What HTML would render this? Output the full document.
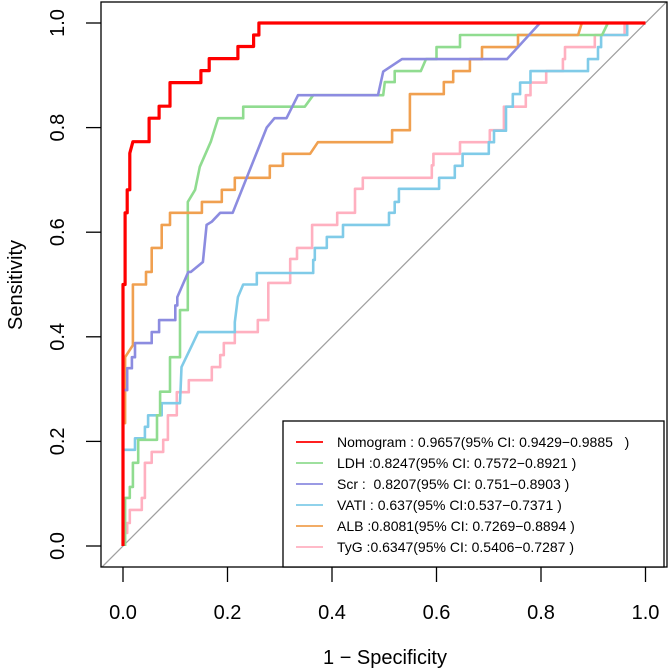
<!DOCTYPE html>
<html><head><meta charset="utf-8"><style>
html,body{margin:0;padding:0;background:#fff;}
svg{display:block;font-family:"Liberation Sans",Arial,sans-serif;}
</style></head><body>
<svg id="chart" width="669" height="672" viewBox="0 0 669 672" xmlns="http://www.w3.org/2000/svg">
<g id="marks"></g>
</svg>
<script>
const xTicks = [0, 0.2, 0.4, 0.6, 0.8, 1.0];
const yTicks = [0, 0.2, 0.4, 0.6, 0.8, 1.0];
const tickLabels = ["0.0", "0.2", "0.4", "0.6", "0.8", "1.0"];
const seriesNames = ["Nomogram", "LDH", "Scr", "VATI", "ALB", "TyG"];
const seriesColors = ["#ff0000", "#90dc90", "#8c8ce0", "#80cbe8", "#f0a050", "#ffb0c0"];
const legendLabels = [
 "Nomogram : 0.9657(95% CI: 0.9429\u22120.9885   )",
 "LDH :0.8247(95% CI: 0.7572\u22120.8921 )",
 "Scr :  0.8207(95% CI: 0.751\u22120.8903 )",
 "VATI : 0.637(95% CI:0.537\u22120.7371 )",
 "ALB :0.8081(95% CI: 0.7269\u22120.8894 )",
 "TyG :0.6347(95% CI: 0.5406\u22120.7287 )"
];
const nomFpr = [0,0,0.004,0.004,0.008,0.008,0.013,0.013,0.019,0.05,0.05,0.069,0.069,0.09,0.09,0.149,0.149,0.165,0.165,0.22,0.22,0.25,0.25,0.26,0.26,1];
const nomTpr = [0,0.5,0.5,0.637,0.637,0.681,0.681,0.751,0.773,0.773,0.818,0.818,0.841,0.841,0.886,0.886,0.909,0.909,0.932,0.932,0.955,0.955,0.977,0.977,1,1];
const ldhFpr = [0.004,0.004,0.013,0.013,0.019,0.019,0.029,0.029,0.065,0.065,0.071,0.071,0.09,0.09,0.109,0.109,0.124,0.124,0.138,0.147,0.168,0.182,0.23,0.23,0.348,0.364,0.498,0.501,0.52,0.52,0.57,0.58,0.6,0.6,0.645,0.645,0.917,0.928,1];
const ldhTpr = [0,0.092,0.092,0.113,0.113,0.159,0.159,0.203,0.203,0.25,0.25,0.295,0.295,0.361,0.361,0.451,0.451,0.658,0.681,0.725,0.773,0.818,0.818,0.84,0.84,0.862,0.862,0.887,0.887,0.908,0.908,0.931,0.931,0.954,0.954,0.977,0.977,1,1];
const scrFpr = [0,0,0.008,0.008,0.017,0.017,0.023,0.023,0.055,0.055,0.069,0.069,0.1,0.1,0.104,0.104,0.125,0.13,0.153,0.16,0.17,0.186,0.21,0.275,0.29,0.313,0.335,0.488,0.498,0.534,0.735,0.798,1];
const scrTpr = [0,0.298,0.298,0.34,0.34,0.361,0.361,0.388,0.388,0.409,0.409,0.432,0.432,0.46,0.46,0.476,0.524,0.524,0.543,0.614,0.62,0.637,0.637,0.8,0.818,0.818,0.862,0.862,0.907,0.931,0.931,1,1];
const vatiFpr = [0,0,0.023,0.023,0.042,0.042,0.048,0.048,0.074,0.074,0.109,0.112,0.132,0.144,0.214,0.214,0.22,0.23,0.256,0.256,0.364,0.364,0.367,0.367,0.39,0.39,0.421,0.421,0.509,0.509,0.52,0.52,0.528,0.528,0.605,0.605,0.635,0.635,0.65,0.65,0.7,0.7,0.71,0.71,0.733,0.733,0.746,0.746,0.76,0.76,0.78,0.78,0.89,0.89,0.909,0.909,0.915,0.915,0.965,0.965,1];
const vatiTpr = [0,0.184,0.184,0.206,0.206,0.228,0.228,0.25,0.25,0.273,0.273,0.342,0.384,0.409,0.409,0.428,0.476,0.5,0.5,0.522,0.522,0.547,0.547,0.57,0.57,0.591,0.591,0.614,0.614,0.637,0.637,0.658,0.658,0.683,0.683,0.704,0.704,0.727,0.727,0.75,0.75,0.772,0.772,0.794,0.794,0.84,0.84,0.864,0.864,0.886,0.886,0.908,0.908,0.931,0.931,0.954,0.954,0.977,0.977,1,1];
const albFpr = [0,0,0.004,0.004,0.019,0.019,0.044,0.044,0.055,0.055,0.074,0.074,0.09,0.09,0.151,0.151,0.189,0.189,0.214,0.214,0.281,0.281,0.306,0.306,0.358,0.373,0.515,0.515,0.549,0.549,0.614,0.614,0.632,0.632,0.664,0.664,0.687,0.687,0.756,0.756,0.871,0.878,1];
const albTpr = [0,0.235,0.235,0.361,0.384,0.5,0.5,0.524,0.524,0.57,0.57,0.614,0.614,0.637,0.637,0.658,0.658,0.681,0.681,0.704,0.704,0.727,0.727,0.75,0.75,0.772,0.772,0.795,0.795,0.864,0.864,0.887,0.887,0.908,0.908,0.931,0.931,0.954,0.954,0.977,0.977,1,1];
const tygFpr = [0,0,0.008,0.008,0.013,0.013,0.036,0.036,0.042,0.042,0.055,0.055,0.077,0.077,0.086,0.086,0.103,0.103,0.126,0.126,0.17,0.17,0.186,0.186,0.193,0.193,0.214,0.214,0.258,0.258,0.278,0.278,0.32,0.32,0.333,0.333,0.362,0.362,0.41,0.41,0.444,0.444,0.459,0.459,0.591,0.591,0.594,0.594,0.645,0.645,0.702,0.702,0.729,0.729,0.771,0.771,0.78,0.78,0.81,0.81,0.842,0.842,0.846,0.846,0.903,0.903,0.96,0.96,1];
const tygTpr = [0,0.025,0.025,0.044,0.044,0.069,0.069,0.092,0.092,0.159,0.159,0.18,0.18,0.203,0.203,0.25,0.25,0.294,0.294,0.317,0.317,0.342,0.342,0.365,0.365,0.388,0.388,0.409,0.409,0.432,0.432,0.503,0.503,0.549,0.549,0.57,0.57,0.614,0.614,0.637,0.637,0.683,0.683,0.704,0.704,0.728,0.728,0.75,0.75,0.772,0.772,0.795,0.795,0.84,0.84,0.862,0.862,0.886,0.886,0.908,0.908,0.931,0.931,0.954,0.954,0.977,0.977,1,1];

const NS = "http://www.w3.org/2000/svg";
const X0 = 123, X1 = 645.5, Y0 = 546, Y1 = 23;
const BOX = {l:101, t:2, r:667, b:567};
function sx(v){ return X0 + v*(X1-X0); }
function sy(v){ return Y0 - v*(Y0-Y1); }
const g = document.getElementById('marks');
function mk(tag, attrs, parent){
  const e = document.createElementNS(NS, tag);
  for (const k in attrs) e.setAttribute(k, attrs[k]);
  (parent||g).appendChild(e);
  return e;
}
const defs = mk('defs', {});
const cp = mk('clipPath', {id:'plotclip'}, defs);
mk('rect', {x:BOX.l, y:BOX.t, width:BOX.r-BOX.l, height:BOX.b-BOX.t}, cp);

const dLo = -0.05, dHi = 1.05;
const diag = mk('line', {x1:sx(dLo), y1:sy(dLo), x2:sx(dHi), y2:sy(dHi), stroke:'#a0a0a0', 'stroke-width':1.3, 'clip-path':'url(#plotclip)'});



const allF = [nomFpr, ldhFpr, scrFpr, vatiFpr, albFpr, tygFpr];
const allT = [nomTpr, ldhTpr, scrTpr, vatiTpr, albTpr, tygTpr];
const order = [5,3,1,4,2,0];
order.forEach(i => {
  const f = allF[i], t = allT[i];
  const n = Math.min(f.length, t.length);
  const pts = [];
  for (let k = 0; k < n; k++) pts.push(sx(f[k]).toFixed(1) + ',' + sy(t[k]).toFixed(1));
  const pl = mk('polyline', {points:pts.join(' '), fill:'none', stroke:seriesColors[i], 'stroke-width': i===0?3.2:2.6, 'stroke-linejoin':'round', 'clip-path':'url(#plotclip)'});
  
  
});

const box = mk('rect', {x:BOX.l, y:BOX.t, width:BOX.r-BOX.l, height:BOX.b-BOX.t, fill:'none', stroke:'#000', 'stroke-width':1.3});



xTicks.forEach((v,i) => {
  const tk = mk('line', {x1:sx(v), y1:BOX.b, x2:sx(v), y2:582, stroke:'#000', 'stroke-width':1.3});
  
  
  const tx = mk('text', {x:sx(v), y:619, 'text-anchor':'middle', 'font-size':20, fill:'#000'});
  tx.textContent = tickLabels[i];
  
  
});
const xt = mk('text', {x:385, y:664, 'text-anchor':'middle', 'font-size':20, fill:'#000'});
xt.textContent = '1 \u2212 Specificity';



yTicks.forEach((v,i) => {
  const tk = mk('line', {x1:86, y1:sy(v), x2:BOX.l, y2:sy(v), stroke:'#000', 'stroke-width':1.3});
  
  
  const tx = mk('text', {x:0, y:0, 'text-anchor':'middle', 'font-size':20, fill:'#000', transform:'translate(64,' + sy(v) + ') rotate(-90)'});
  tx.textContent = tickLabels[i];
  
  
});
const yt = mk('text', {x:0, y:0, 'text-anchor':'middle', 'font-size':20, fill:'#000', transform:'translate(22,285) rotate(-90)'});
yt.textContent = 'Sensitivity';



const lg = mk('g', {});


mk('rect', {x:283, y:421, width:381, height:146, fill:'#fff', stroke:'#000', 'stroke-width':1.3}, lg);
legendLabels.forEach((lab,i) => {
  const y = 442 + i*21;
  const en = mk('g', {}, lg);
  
  
  mk('line', {x1:296, y1:y, x2:323, y2:y, stroke:seriesColors[i], 'stroke-width':1.8}, en);
  const t = mk('text', {x:337, y:y+5, 'font-size':14, fill:'#000'}, en);
  t.style.whiteSpace = 'pre';
  t.textContent = lab;
});
</script>
</body></html>
